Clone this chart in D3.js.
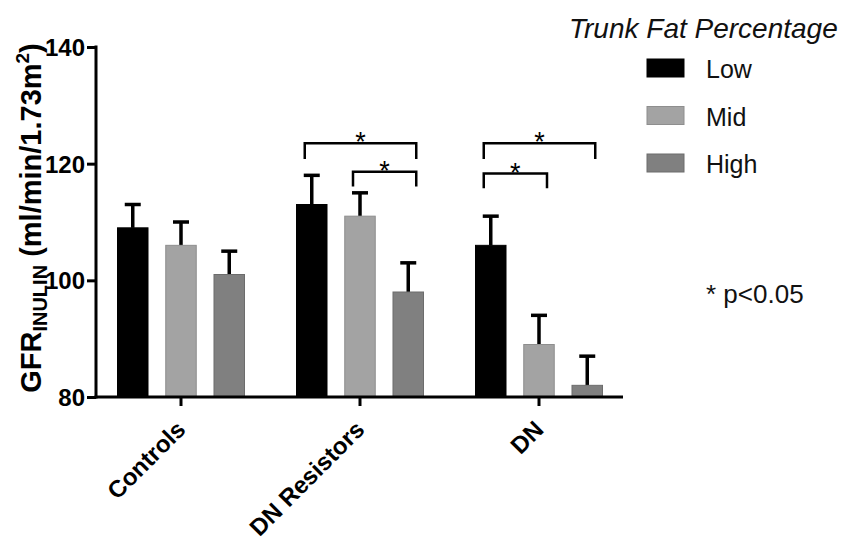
<!DOCTYPE html>
<html>
<head>
<meta charset="utf-8">
<script src="https://cdn.jsdelivr.net/npm/d3@7"></script>
<style>
  body { margin: 0; background: #fff; }
  svg { font-family: "Liberation Sans", Arial, sans-serif; }
</style>
</head>
<body>
<script>
// data
const groups = ['Controls', 'DN Resistors', 'DN']
const levels = ['Low', 'Mid', 'High']
const means = [
  [109, 106, 101],
  [113, 111, 98],
  [106, 89, 82]
]
const upperErr = [
  [113, 110, 105],
  [118, 115, 103],
  [111, 94, 87]
]
const yTicks = [80, 100, 120, 140]
// significance brackets: group, from level, to level, bar y, leg end y (data units)
const brackets = [
  { group: 'DN Resistors', from: 'Low', to: 'High', y: 123.5, leg: 120.8 },
  { group: 'DN Resistors', from: 'Mid', to: 'High', y: 118.6, leg: 116.1 },
  { group: 'DN', from: 'Low', to: 'High', y: 123.5, leg: 120.8 },
  { group: 'DN', from: 'Low', to: 'Mid', y: 118.3, leg: 115.8 }
]

const width = 847
const height = 544
const colors = { Low: '#000000', Mid: '#a3a3a3', High: '#808080' }
const strokes = { Low: '#000000', Mid: '#8e8e8e', High: '#6c6c6c' }

const svg = d3.select('body')
  .append('svg')
  .attr('width', width)
  .attr('height', height)

// scales
const x0 = d3.scaleBand()
  .domain(groups)
  .range([91.5, 628.5])
  .padding(0)

const x1 = d3.scaleBand()
  .domain(levels)
  .range([25.5, 153.5])
  .paddingInner(0.347)
  .paddingOuter(0)

const y = d3.scaleLinear()
  .domain([80, 140])
  .range([397, 47])

// bars
const rows = []
groups.forEach((g, gi) => {
  levels.forEach((l, li) => {
    rows.push({ group: g, level: l, mean: means[gi][li], err: upperErr[gi][li] })
  })
})

const barG = svg.append('g')
barG.selectAll('g.bar')
  .data(rows)
  .enter()
  .append('g')
  .attr('class', 'bar')
  .attr('transform', d => `translate(${x0(d.group) + x1(d.level)},0)`)
  .each(function(d) {
    const bw = x1.bandwidth()
    const cx = bw / 2
    // error bar first so the bar covers the stem base
    d3.select(this).append('line')
      .attr('x1', cx).attr('x2', cx)
      .attr('y1', y(d.mean)).attr('y2', y(d.err))
      .style('stroke', '#000').style('stroke-width', 3.5)
    d3.select(this).append('line')
      .attr('x1', cx - 8).attr('x2', cx + 8)
      .attr('y1', y(d.err)).attr('y2', y(d.err))
      .style('stroke', '#000').style('stroke-width', 3.5)
    d3.select(this).append('rect')
      .attr('x', 0.5)
      .attr('y', y(d.mean))
      .attr('width', bw - 1)
      .attr('height', y(80) - y(d.mean))
      .style('fill', colors[d.level])
      .style('stroke', strokes[d.level])
      .style('stroke-width', 1)
  })

// y axis
const yAxis = d3.axisLeft(y)
  .tickValues(yTicks)
  .tickSize(9)
  .tickPadding(2)

const yAxisG = svg.append('g')
  .attr('transform', 'translate(96,0)')
  .call(yAxis)
yAxisG.select('.domain').remove()
yAxisG.append('line')
  .attr('x1', 0).attr('x2', 0)
  .attr('y1', y(140) - 1.5).attr('y2', y(80) + 1.5)
  .style('stroke', '#000').style('stroke-width', 3)
yAxisG.selectAll('.tick line').style('stroke-width', 3)
yAxisG.selectAll('.tick text')
  .attr('font-size', 24)
  .style('font-size', '24px')
  .style('font-weight', 'bold')
  .attr('dy', '0.36em')
  .style('fill', '#000')

// x axis
const xAxis = d3.axisBottom(x0)
  .tickSize(9)
const xAxisG = svg.append('g')
  .attr('transform', `translate(0,${y(80)})`)
  .call(xAxis)
xAxisG.select('.domain').remove()
xAxisG.append('line')
  .attr('x1', 94.5).attr('x2', 623)
  .attr('y1', 0).attr('y2', 0)
  .style('stroke', '#000').style('stroke-width', 3)
xAxisG.selectAll('.tick line').style('stroke-width', 3)
xAxisG.selectAll('.tick text')
  .style('font-size', '24px')
  .style('font-weight', 'bold')
  .style('fill', '#000')
  .attr('text-anchor', 'end')
  .attr('y', 0)
  .attr('dy', 0)
  .attr('transform', 'translate(6,34) rotate(-45)')

// y axis title
const yTitle = svg.append('text')
  .attr('transform', `translate(41,${(y(80) + y(140)) / 2 - 4}) rotate(-90)`)
  .attr('text-anchor', 'middle')
  .style('font-size', '29px')
  .style('font-weight', 'bold')
  .style('fill', '#000')
yTitle.append('tspan').text('GFR')
yTitle.append('tspan').attr('dy', 6).style('font-size', '20px').text('INULIN')
yTitle.append('tspan').attr('dy', -6).text(' (ml/min/1.73m')
yTitle.append('tspan').attr('dy', -12).style('font-size', '19px').text('2')
yTitle.append('tspan').attr('dy', 12).text(')')

// significance brackets
const bw = x1.bandwidth()
const brG = svg.append('g')
brackets.forEach(b => {
  const xa = x0(b.group) + x1(b.from) + bw / 2 - 7
  const xb = x0(b.group) + x1(b.to) + bw / 2 + 8
  brG.append('path')
    .attr('d', `M${xa},${y(b.leg)}V${y(b.y)}H${xb}V${y(b.leg)}`)
    .style('fill', 'none')
    .style('stroke', '#000')
    .style('stroke-width', 2.5)
  brG.append('text')
    .attr('x', (xa + xb) / 2)
    .attr('y', y(b.y) + 8)
    .attr('text-anchor', 'middle')
    .style('font-size', '27px')
    .style('fill', '#000')
    .text('*')
})

// legend
const legend = svg.append('g')
legend.append('text')
  .attr('x', 569)
  .attr('y', 38)
  .style('font-size', '28px')
  .style('font-style', 'italic')
  .style('fill', '#111')
  .text('Trunk Fat Percentage')

const legItems = legend.selectAll('g.item')
  .data(levels)
  .enter()
  .append('g')
  .attr('class', 'item')
  .attr('transform', (d, i) => `translate(647,${59 + i * 47.5})`)
legItems.append('rect')
  .attr('width', 37)
  .attr('height', 18)
  .style('fill', d => colors[d])
  .style('stroke', d => strokes[d])
  .style('stroke-width', 1)
legItems.append('text')
  .attr('x', 59)
  .attr('y', 19)
  .style('font-size', '25px')
  .style('fill', '#111')
  .text(d => d)

svg.append('text')
  .attr('x', 706)
  .attr('y', 303)
  .style('font-size', '26px')
  .style('fill', '#111')
  .text('* p<0.05')
</script>
</body>
</html>
